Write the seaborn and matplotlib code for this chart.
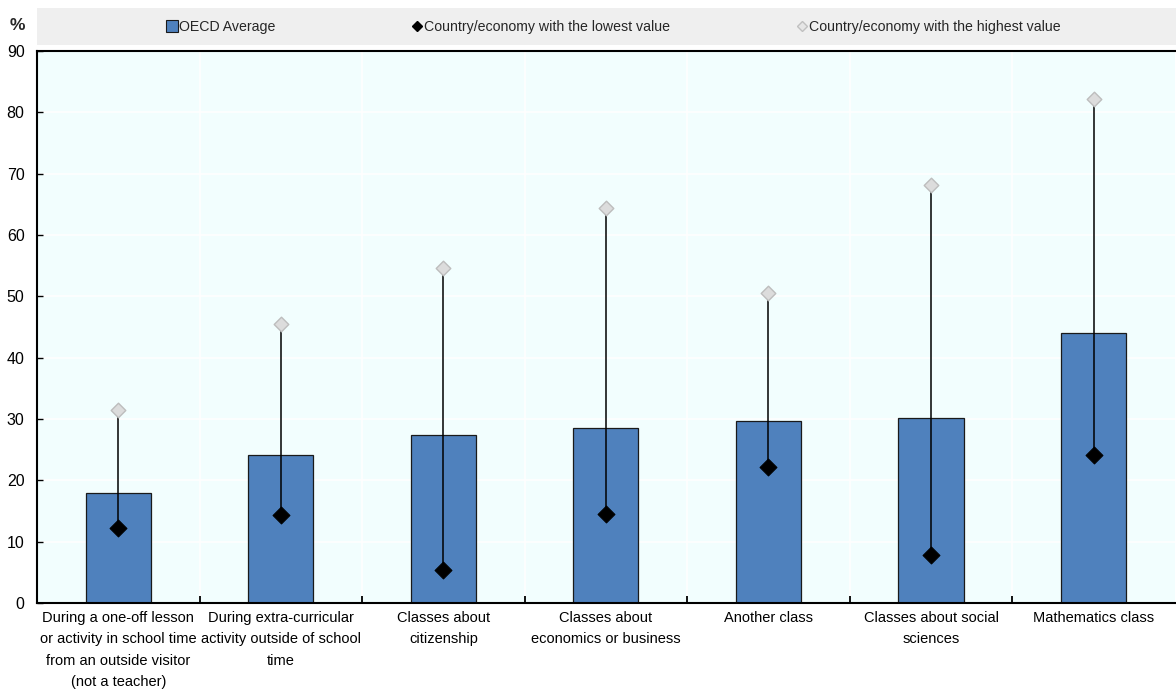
import numpy as np
import pandas as pd
import seaborn as sns
import matplotlib.pyplot as plt
from matplotlib.lines import Line2D
from matplotlib.patches import Rectangle

categories = [
    "During a one-off lesson\nor activity in school time\nfrom an outside visitor\n(not a teacher)",
    "During extra-curricular\nactivity outside of school\ntime",
    "Classes about\ncitizenship",
    "Classes about\neconomics or business",
    "Another class",
    "Classes about social\nsciences",
    "Mathematics class",
]
oecd_average = [17.9, 24.1, 27.4, 28.5, 29.7, 30.2, 44.0]
lowest_value = [12.2, 14.4, 5.3, 14.5, 22.1, 7.8, 24.2]
highest_value = [31.5, 45.5, 54.6, 64.4, 50.5, 68.1, 82.1]

legend_labels = ["OECD Average", "Country/economy with the lowest value",
                 "Country/economy with the highest value"]

bar_color = "#4F81BD"
bg_color = "#F2FEFE"

sns.set_theme(style="white")
plt.rcParams['font.family'] = ['Liberation Sans', 'DejaVu Sans']

df = pd.DataFrame({"category": categories, "avg": oecd_average,
                   "low": lowest_value, "high": highest_value})

W, H = 1176, 694
fig = plt.figure(figsize=(W / 100, H / 100), dpi=100)
ax = fig.add_axes([37 / W, 1 - 603 / H, 1 - 37 / W - 0.001, (603 - 51) / H])
ax.set_facecolor(bg_color)
ax.set_axisbelow(False)

sns.barplot(data=df, x="category", y="avg", color=bar_color, width=0.4,
            edgecolor="#1A1A1A", linewidth=0.9, saturation=1, ax=ax, zorder=2)

xpos = np.arange(len(categories))
ax.vlines(xpos, df["low"], df["high"], color="black", linewidth=1.1, zorder=3)
sns.scatterplot(x=xpos, y=df["high"], marker="D", s=55, color="#DCDCDC",
                edgecolor="#BDBDBD", linewidth=1, ax=ax, zorder=4)
sns.scatterplot(x=xpos, y=df["low"], marker="D", s=75, color="black",
                edgecolor="black", ax=ax, zorder=5)

ax.set_ylim(0, 90)
ax.set_xlim(-0.5, len(categories) - 0.5)
ax.set_yticks(range(0, 91, 10))
ax.set_xlabel("")
ax.set_ylabel("")

# white gridlines, horizontal and between categories
for y in range(10, 90, 10):
    ax.axhline(y, color="white", linewidth=1.2, zorder=1)
for x in np.arange(0.5, len(categories) - 0.5, 1):
    ax.axvline(x, color="white", linewidth=1.2, zorder=1)

ax.set_xticks(xpos)
ax.set_xticklabels(categories, fontsize=10.5, linespacing=1.65)
ax.tick_params(axis="x", length=0, pad=6, labelcolor="black")
ax.set_xticks(np.arange(0.5, len(categories) - 0.5, 1), minor=True)
ax.tick_params(axis="x", which="minor", direction="in", length=5, width=1.3,
               color="black", bottom=True)
ax.tick_params(axis="y", direction="in", length=4, width=1, color="black",
               labelsize=11.5, labelcolor="black", pad=9, left=True)

for side in ["left", "bottom", "top"]:
    ax.spines[side].set_visible(True)
    ax.spines[side].set_color("black")
    ax.spines[side].set_linewidth(1.5)
ax.spines["right"].set_visible(False)

# legend band
fig.patches.append(Rectangle((37 / W, 1 - 45 / H), 1 - 37 / W, 37 / H,
                             transform=fig.transFigure, facecolor="#EFEFEF",
                             edgecolor="none", zorder=0))
handles = [
    Line2D([], [], marker="s", linestyle="none", markersize=8, markerfacecolor=bar_color,
           markeredgecolor="#1A1A1A", markeredgewidth=0.8),
    Line2D([], [], marker="D", linestyle="none", markersize=5.5, markerfacecolor="black",
           markeredgecolor="black"),
    Line2D([], [], marker="D", linestyle="none", markersize=5.5, markerfacecolor="#E6E6E6",
           markeredgecolor="#C0C0C0"),
]
marker_x = [172, 417, 802]
for h, lab, mx in zip(handles, legend_labels, marker_x):
    fig.legend([h], [lab], loc="center left", bbox_to_anchor=((mx - 6) / W, 1 - 26.5 / H),
               frameon=False, fontsize=10.2, handletextpad=0.1, handlelength=0.85,
               borderpad=0, borderaxespad=0)

fig.text(17 / W, 1 - 25 / H, "%", fontsize=12.5, fontweight="bold",
         ha="center", va="center")

fig.savefig("out.png", dpi=100)
